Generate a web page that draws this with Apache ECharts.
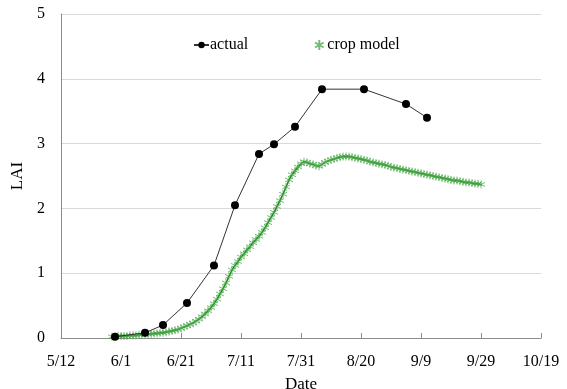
<!DOCTYPE html>
<html>
<head>
<meta charset="utf-8">
<script src="https://cdn.jsdelivr.net/npm/echarts@6/dist/echarts.min.js"></script>
<style>
  html, body { margin: 0; padding: 0; background: #fff; }
  #chart { width: 567px; height: 389px; }
</style>
</head>
<body>
<div id="chart"></div>
<script>
// x axis: days counted from 5/12
var xTickLabels = ['5/12', '6/1', '6/21', '7/11', '7/31', '8/20', '9/9', '9/29', '10/19'];

// measured LAI
var actualDays = [18, 28, 34, 42, 51, 58, 66, 71, 78, 87, 101, 115, 122];
var actualLAI = [0.02, 0.08, 0.20, 0.54, 1.12, 2.05, 2.84, 2.99, 3.26, 3.84, 3.84, 3.61, 3.40];

// crop model, one value per day starting at day 17 (5/29)
var modelStartDay = 17;
var modelLAI = [
  0.02, 0.02, 0.03, 0.03, 0.03, 0.03, 0.04, 0.04, 0.04, 0.05, 0.05, 0.05, 0.06, 0.06,
  0.07, 0.07, 0.08, 0.08, 0.09, 0.10, 0.11, 0.12, 0.13, 0.15,
  0.17, 0.19, 0.21, 0.23, 0.26, 0.29, 0.33, 0.37, 0.42, 0.47,
  0.53, 0.60, 0.68, 0.76, 0.85, 0.95, 1.05,
  1.12, 1.18, 1.25, 1.30, 1.36, 1.41, 1.47, 1.52, 1.57, 1.63, 1.70, 1.78, 1.86, 1.94, 2.03, 2.12, 2.22, 2.33, 2.44,
  2.52, 2.58, 2.64, 2.69, 2.72, 2.71, 2.69, 2.68, 2.66, 2.65, 2.68, 2.71, 2.73, 2.75, 2.76, 2.78, 2.79, 2.80, 2.80, 2.80,
  2.79, 2.78, 2.77, 2.76,
  2.75, 2.74, 2.72, 2.71, 2.70, 2.69, 2.68, 2.67, 2.66, 2.64, 2.63, 2.62, 2.61, 2.60, 2.59, 2.58, 2.57, 2.56, 2.55, 2.54,
  2.53, 2.52, 2.51, 2.50, 2.49, 2.48, 2.47, 2.46, 2.45, 2.44, 2.43, 2.43, 2.42, 2.41, 2.40, 2.40, 2.39, 2.38, 2.38, 2.37
];

var font = 'Liberation Serif';
var asterisk = 'path://M0,-5L0,5M-4.3,-2.5L4.3,2.5M-4.3,2.5L4.3,-2.5';

var actualData = actualDays.map(function (d, i) { return [d, actualLAI[i]]; });
var modelData = modelLAI.map(function (v, i) { return [modelStartDay + i, v]; });

var legendText = { fontFamily: font, fontSize: 16, color: '#000', padding: [0, 0, 0, -4] };

var chart = echarts.init(document.getElementById('chart'));
chart.setOption({
  animation: false,
  textStyle: { fontFamily: font, color: '#000' },
  grid: { left: 61, right: 26, top: 14, bottom: 51, containLabel: false, outerBoundsMode: 'none' },
  legend: [
    {
      top: 32, left: 188, itemWidth: 15, itemHeight: 8,
      textStyle: legendText,
      data: ['actual']
    },
    {
      top: 32, left: 309, itemWidth: 14, itemHeight: 10,
      textStyle: legendText,
      data: [{ name: 'crop model', icon: asterisk }]
    }
  ],
  xAxis: {
    type: 'value',
    min: 0,
    max: 160,
    interval: 20,
    name: 'Date',
    nameLocation: 'middle',
    nameGap: 38,
    nameTextStyle: { fontFamily: font, fontSize: 17, color: '#000' },
    axisLine: { lineStyle: { color: '#8c8c8c', width: 1 } },
    axisTick: { show: true, inside: true, length: 5, lineStyle: { color: '#8c8c8c' } },
    splitLine: { show: false },
    axisLabel: {
      fontFamily: font, fontSize: 16, color: '#000', margin: 16,
      formatter: function (v) { return xTickLabels[Math.round(v / 20)]; }
    }
  },
  yAxis: {
    type: 'value',
    min: 0,
    max: 5,
    interval: 1,
    name: 'LAI',
    nameLocation: 'middle',
    nameGap: 35,
    nameTextStyle: { fontFamily: font, fontSize: 17, color: '#000' },
    axisLine: { show: true, lineStyle: { color: '#8c8c8c', width: 1 } },
    axisTick: { show: false },
    splitLine: { lineStyle: { color: '#d9d9d9', width: 1 } },
    axisLabel: { fontFamily: font, fontSize: 16, color: '#000', margin: 16 }
  },
  series: [
    {
      name: 'crop model',
      type: 'line',
      data: modelData,
      symbol: asterisk,
      symbolSize: 8,
      showAllSymbol: true,
      lineStyle: { color: '#178a17', width: 1.5 },
      itemStyle: { color: 'rgba(0,0,0,0)', borderColor: 'rgba(70,165,70,0.75)', borderWidth: 1 },
      z: 2
    },
    {
      name: 'actual',
      type: 'line',
      data: actualData,
      symbol: 'circle',
      symbolSize: 8,
      lineStyle: { color: '#333', width: 1 },
      itemStyle: { color: '#000' },
      z: 3
    }
  ]
});
</script>
</body>
</html>
